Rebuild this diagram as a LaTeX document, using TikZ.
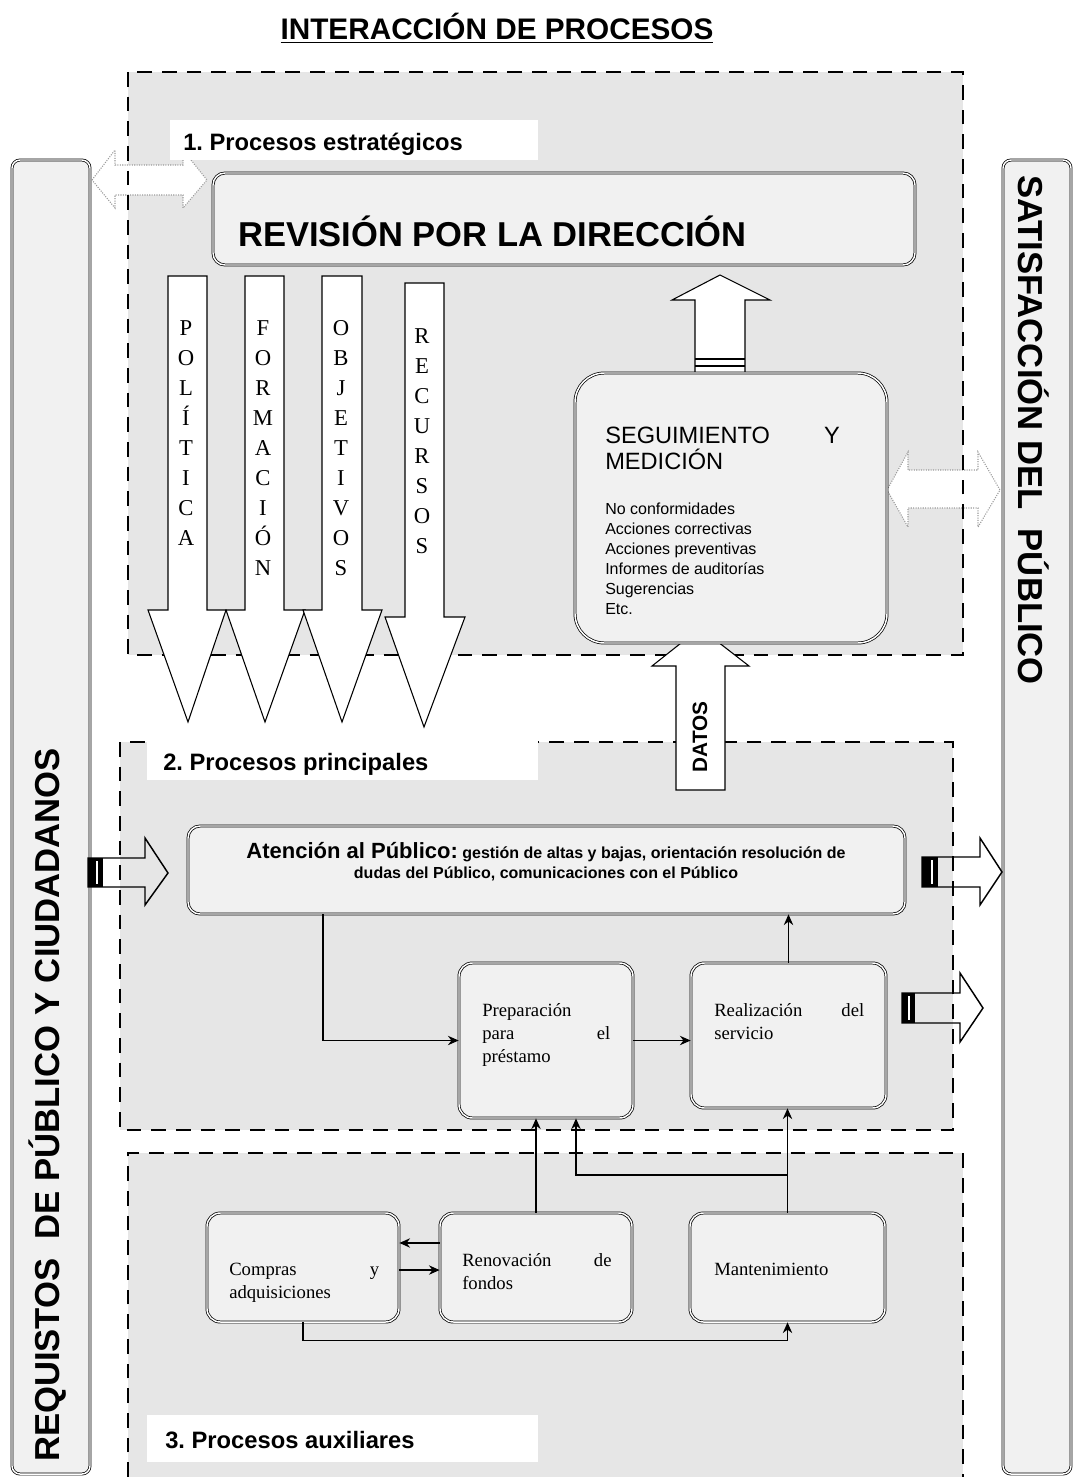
\documentclass[tikz,border=0pt]{standalone}
\usepackage{fontspec}
\setmainfont{Liberation Serif}
\setsansfont{Liberation Sans}
\usetikzlibrary{arrows.meta,fit,calc}
\definecolor{regiongray}{HTML}{E6E6E6}
\definecolor{boxgray}{HTML}{F1F1F1}
\definecolor{ghostgray}{HTML}{9A9A9A}
\frenchspacing
\begin{document}
\begin{tikzpicture}[x=0.75pt,y=-0.75pt,
  dashline/.style={line width=2.2pt, dash pattern=on 11pt off 7.5pt},
  dbox/.style={draw=black, line width=0.55pt, double=white, double distance=1.1pt, fill=boxgray, inner sep=0pt},
  labeltext/.style={font=\sffamily\bfseries\fontsize{17.8}{20}\selectfont, anchor=base west, inner sep=0pt},
  bigarrow/.style={draw=black, line width=0.8pt, fill=white, line join=miter},
  ghost/.style={draw=ghostgray, densely dotted, line width=0.8pt, fill=white},
  sidearrow/.style={draw=black, line width=1.1pt, line join=miter},
  conn/.style={draw=black, line width=1.2pt, -{Stealth[length=8pt,width=7pt]}},
  vletters/.style={font=\fontsize{17}{22.5}\selectfont, align=center, inner sep=0pt, anchor=north},
  serif/.style={font=\fontsize{14}{17.25}\selectfont, align=left, anchor=north west, inner sep=0pt},
]
\useasboundingbox (0,0) rectangle (1074,1477);
\fill[white] (0,0) rectangle (1074,1477);

% regions
\fill[regiongray] (128,72) rectangle (963,655);
\fill[regiongray] (120,742) rectangle (953,1130);
\fill[regiongray] (128,1153) rectangle (963,1477);

% side bars
\node[dbox, rounded corners=6pt, fit={(12,160) (90,1474)}] (reqbar) {};
\node[dbox, rounded corners=6pt, fit={(1003,160) (1071,1474)}] (satbar) {};
\node[rotate=90, inner sep=0pt, font=\sffamily\bfseries\fontsize{26}{30}\selectfont] (reqtext) at (48,1105) {REQUISTOS\ \ DE PÚBLICO Y CIUDADANOS};
\node[rotate=-90, inner sep=0pt, font=\sffamily\bfseries\fontsize{26}{30}\selectfont] (sattext) at (1034,430) {SATISFACCIÓN DEL\ \ PÚBLICO};

% ghost double arrows
\draw[ghost] (92,180) -- (115,150) -- (115,165) -- (183,165) -- (183,150) -- (207,180) -- (183,208) -- (183,195) -- (115,195) -- (115,208) -- cycle;
\draw[ghost] (887,490) -- (908,452) -- (908,470) -- (978,470) -- (978,452) -- (1000,490) -- (978,527) -- (978,508) -- (908,508) -- (908,527) -- cycle;

% side input/output arrows
\draw[sidearrow] (88,858) -- (145,858) -- (145,838) -- (168,873) -- (145,905) -- (145,887) -- (88,887) -- cycle;
\fill[black] (88,858) rectangle (103,887);
\draw[white, line width=1.5pt] (96.5,861) -- (96.5,884);
\draw[sidearrow] (922,857) -- (980,857) -- (980,838) -- (1002,872) -- (980,905) -- (980,887) -- (922,887) -- cycle;
\fill[black] (922,857) rectangle (938,887);
\draw[white, line width=1.5pt] (931.5,860) -- (931.5,884);
\draw[sidearrow] (902,993) -- (960,993) -- (960,973) -- (983,1008) -- (960,1042) -- (960,1023) -- (902,1023) -- cycle;
\fill[black] (902,993) rectangle (915,1023);
\draw[white, line width=1.5pt] (909,996) -- (909,1020);

% dashed region borders
\draw[dashline] (128,72) rectangle (963,655);
\draw[dashline] (120,742) rectangle (953,1130);
\draw[dashline] (128,1477) -- (128,1153) -- (963,1153) -- (963,1477);

% section labels
\fill[white] (170,120) rectangle (538,160);
\node[labeltext] (lab1) at (183,150) {1. Procesos estratégicos};
\fill[white] (147,736) rectangle (538,780);
\node[labeltext] (lab2) at (163,770) {2. Procesos principales};
\fill[white] (147,1415) rectangle (538,1462);
\node[labeltext] (lab3) at (165,1448) {3. Procesos auxiliares};

% title
\node[anchor=base, inner sep=0pt, font=\sffamily\bfseries\fontsize{22.3}{26}\selectfont] (title) at (497,40) {\underline{INTERACCIÓN DE PROCESOS}};

% revision
\node[dbox, rounded corners=9pt, fit={(213,173) (915,265)}] (revision) {};
\node[anchor=base west, inner sep=0pt, font=\sffamily\bfseries\fontsize{25.9}{30}\selectfont] (revtext) at (238,246) {REVISIÓN POR LA DIRECCIÓN};

% down arrows
\draw[bigarrow] (168,276) -- (207,276) -- (207,610) -- (226,610) -- (188,722) -- (148,610) -- (168,610) -- cycle;
\draw[bigarrow] (245,276) -- (284,276) -- (284,610) -- (305,610) -- (265,722) -- (226,610) -- (245,610) -- cycle;
\draw[bigarrow] (322,276) -- (362,276) -- (362,610) -- (382,610) -- (342,722) -- (303,610) -- (322,610) -- cycle;
\draw[bigarrow] (405,283) -- (444,283) -- (444,617) -- (465,617) -- (424,727) -- (385,617) -- (405,617) -- cycle;
\node[vletters] (politica) at (186,320) {P\\O\\L\\Í\\T\\I\\C\\A};
\node[vletters] (formacion) at (263,320) {F\\O\\R\\M\\A\\C\\I\\Ó\\N};
\node[vletters] (objetivos) at (341,320) {O\\B\\J\\E\\T\\I\\V\\O\\S};
\node[vletters] (recursos) at (422,328) {R\\E\\C\\U\\R\\S\\O\\S};

% up arrow to revision
\draw[bigarrow] (695,373) -- (695,300) -- (672,300) -- (720,275) -- (770,300) -- (745,300) -- (745,373);
\draw[line width=0.8pt] (695,359) -- (745,359) (695,366) -- (745,366);

% DATOS arrow
\draw[bigarrow] (676,790) -- (676,666) -- (652,666) -- (700,628) -- (749,666) -- (725,666) -- (725,790) -- cycle;
\node[rotate=90, inner sep=0pt, font=\sffamily\bfseries\fontsize{15.6}{18}\selectfont] (datos) at (700,737) {DATOS};

% seguimiento
\node[dbox, rounded corners=22pt, fit={(575,373) (887,643)}] (seg) {};
\node[anchor=north west, text width=176pt, align=left, inner sep=0pt, font=\sffamily\fontsize{17.7}{19.5}\selectfont] (segtitle) at (605,427) {SEGUIMIENTO\hfill Y\\MEDICIÓN};
\node[anchor=north west, align=left, inner sep=0pt, font=\sffamily\fontsize{12}{15}\selectfont] (seglist) at (605,503) {No conformidades\\Acciones correctivas\\Acciones preventivas\\Informes de auditorías\\Sugerencias\\Etc.};

% main process boxes
\node[dbox, rounded corners=9pt, fit={(188,826) (905,914)}] (atencion) {};
\node[anchor=north, align=center, inner sep=0pt, font=\sffamily\bfseries\fontsize{12}{15}\selectfont] (atentext) at (546,842) {{\fontsize{16.5}{15}\selectfont Atención al Público:} gestión de altas y bajas, orientación resolución de\\dudas del Público, comunicaciones con el Público};

\node[dbox, rounded corners=10pt, fit={(459,963) (633,1118)}] (prep) {};
\node[serif, text width=96pt] (preptext) at (482,1003) {Preparación\\para\hfill el\\préstamo};
\node[dbox, rounded corners=10pt, fit={(691,963) (886,1108)}] (real) {};
\node[serif, text width=112.5pt] (realtext) at (714,1003) {Realización\hfill del\\servicio};

% auxiliary boxes
\node[dbox, rounded corners=10pt, fit={(207,1213) (399,1322)}] (compras) {};
\node[serif, text width=112.5pt] (comprastext) at (229,1263) {Compras\hfill y\\adquisiciones};
\node[dbox, rounded corners=10pt, fit={(440,1213) (632,1322)}] (renov) {};
\node[serif, text width=112pt] (renovtext) at (462,1253) {Renovación\hfill de\\fondos};
\node[dbox, rounded corners=10pt, fit={(690,1213) (885,1322)}] (mant) {};
\node[serif] (manttext) at (714,1263) {Mantenimiento};

% connectors
\coordinate (c1) at (323,900);
\draw[conn] (atencion.south -| c1) |- (prep.west);
\draw[conn] (prep.east) -- (prep.east -| real.west);
\draw[conn] (real.north) -- (real.north |- atencion.south);
\draw[conn] (renov.north) -- (renov.north |- prep.south);
\draw[conn] (mant.north) -- (mant.north |- real.south);
\coordinate (j1) at (mant.north |- 0,1175);
\coordinate (c2) at (576,1175);
\draw[conn] (j1) -| (c2 |- prep.south);
\draw[conn] ([yshift=18.4pt]renov.west) -- ([yshift=18.4pt]compras.east);
\draw[conn] ([yshift=-1.9pt]compras.east) -- ([yshift=-1.9pt]renov.west);
\draw[conn] (compras.south) -- ([yshift=-13.5pt]compras.south) -| (mant.south);
\end{tikzpicture}
\end{document}
